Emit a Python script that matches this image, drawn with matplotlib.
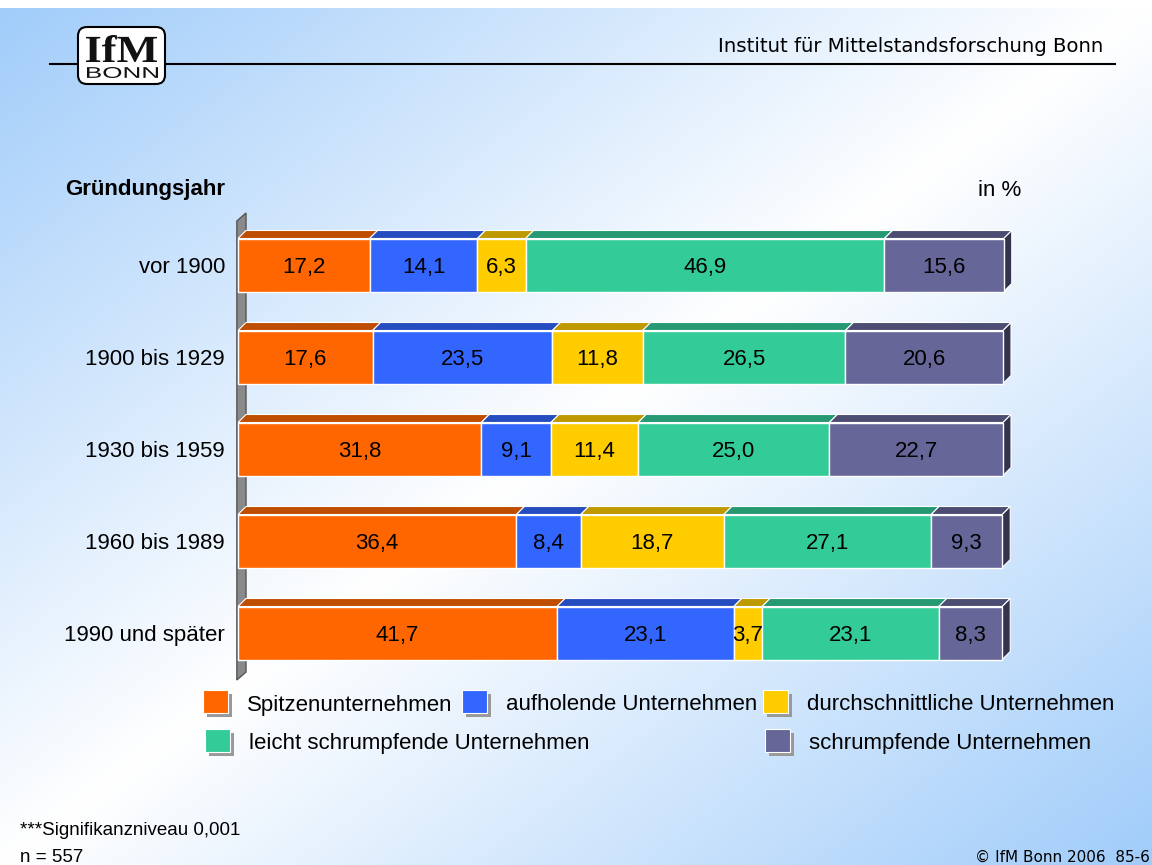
import numpy as np
import matplotlib
matplotlib.use("Agg")
import matplotlib.pyplot as plt
from matplotlib.patches import Polygon, Rectangle, FancyBboxPatch, PathPatch
from matplotlib.textpath import TextPath
from matplotlib.font_manager import FontProperties
from matplotlib.transforms import Affine2D

plt.rcParams['font.family'] = ['Liberation Sans', 'DejaVu Sans']

# data
categories = ['vor 1900', '1900 bis 1929', '1930 bis 1959', '1960 bis 1989', '1990 und später']
series = ['Spitzenunternehmen', 'aufholende Unternehmen', 'durchschnittliche Unternehmen',
          'leicht schrumpfende Unternehmen', 'schrumpfende Unternehmen']
values = [
    [17.2, 17.6, 31.8, 36.4, 41.7],
    [14.1, 23.5, 9.1, 8.4, 23.1],
    [6.3, 11.8, 11.4, 18.7, 3.7],
    [46.9, 26.5, 25.0, 27.1, 23.1],
    [15.6, 20.6, 22.7, 9.3, 8.3],
]
colors = ['#ff6600', '#3366ff', '#ffcc00', '#33cc99', '#666699']

W, H = 1152, 865
fig = plt.figure(figsize=(W / 100, H / 100), dpi=100)

# background: diagonal blue-white gradient
bg = fig.add_axes([0, 0, 1, 1])
xx, yy = np.meshgrid(np.arange(W) / W, np.arange(H) / H)
t = np.abs(xx + yy - 1.0)[..., None]
blue = np.array([160, 204, 250]) / 255.0
img = (1 - t) * 1.0 + t * blue
img[:8] = 1.0
bg.imshow(img, extent=(0, W, H, 0), aspect='auto', interpolation='bilinear')
bg.set_xlim(0, W)
bg.set_ylim(H, 0)
bg.axis('off')

# header
bg.plot([50, 1115], [63.5, 63.5], color='black', lw=1.5)
bg.add_patch(FancyBboxPatch((78, 27), 87, 57, boxstyle='round,pad=0,rounding_size=9',
                            fc='white', ec='black', lw=1.5, zorder=3))


def logo_text(s, fp, x0, x1, ytop, ybot):
    tp = TextPath((0, 0), s, prop=fp, size=1)
    ext = tp.get_extents()
    tr = (Affine2D().translate(-ext.x0, -ext.y0)
          .scale((x1 - x0) / ext.width, -(ybot - ytop) / ext.height)
          .translate(x0, ybot))
    bg.add_patch(PathPatch(tr.transform_path(tp), fc='#111111', ec='none', zorder=4))


logo_text('IfM', FontProperties(family='Liberation Serif', weight='bold'), 86, 157, 35, 62)
logo_text('BONN', FontProperties(family='Liberation Sans'), 87, 158, 67, 78)

bg.text(1103, 47, 'Institut für Mittelstandsforschung Bonn', ha='right', va='center',
        fontsize=14.2, family='DejaVu Sans')

bg.text(65, 190, 'Gründungsjahr', ha='left', va='center', fontsize=16, fontweight='bold')
bg.text(978, 190, 'in %', ha='left', va='center', fontsize=16)

# footer
bg.text(20, 835, '***Signifikanzniveau 0,001', ha='left', va='baseline', fontsize=13.5)
bg.text(20, 862, 'n = 557', ha='left', va='baseline', fontsize=13.5)
bg.text(1150, 862, '© IfM Bonn 2006  85-6', ha='right', va='baseline', fontsize=11,
        family='DejaVu Sans')

# legend
legend_pos = [(203, 690), (462, 690), (763, 690), (205, 729), (765, 729)]
for lab, col, (lx, ly) in zip(series, colors, legend_pos):
    bg.add_patch(Rectangle((lx + 4, ly + 4), 25, 23, fc='#999999', ec='none', zorder=3))
    bg.add_patch(Rectangle((lx, ly), 25, 23, fc=col, ec='white', lw=0.8, zorder=4))
    bg.text(lx + 44, ly + 15, lab, ha='left', va='center', fontsize=16, zorder=5)

# bar chart
ax_l, ax_r, ax_t, ax_b = 238, 1003, 213, 680
ax = fig.add_axes([ax_l / W, 1 - ax_b / H, (ax_r - ax_l) / W, (ax_b - ax_t) / H])
ax.patch.set_alpha(0)
ytop, ybot = -(265 - 213) / 92, (680 - 265) / 92
ax.set_xlim(0, 100)
ax.set_ylim(ybot, ytop)
ax.axis('off')

depth = 8
dxd = depth / ((ax_r - ax_l) / 100)
dyd = depth / ((ax_b - ax_t) / (ybot - ytop))
bh = 53 / 92
hh = bh / 2
ypos = np.arange(len(categories))


def shade(c, f):
    rgb = np.array(matplotlib.colors.to_rgb(c)) * f
    return tuple(rgb)


# back wall
ax.add_patch(Polygon([(-0.15, ybot), (-0.15, ytop + dyd), (dxd, ytop), (dxd, ybot - dyd)],
                     closed=True, fc='#8a8a8a', ec='#555555', lw=1, clip_on=False, zorder=1))

left = np.zeros(len(categories))
for k, (vals, col) in enumerate(zip(values, colors)):
    vals = np.array(vals)
    ax.barh(ypos, vals, left=left, height=bh, color=col, edgecolor='white', lw=1,
            zorder=3, clip_on=False)
    for i, (l, v) in enumerate(zip(left, vals)):
        r = l + v
        yt = i - hh
        ax.add_patch(Polygon([(l, yt), (r, yt), (r + dxd, yt - dyd), (l + dxd, yt - dyd)],
                             closed=True, fc=shade(col, 0.75), ec='white', lw=0.8,
                             clip_on=False, zorder=2))
        if k == len(values) - 1:
            ax.add_patch(Polygon([(r, yt), (r + dxd, yt - dyd), (r + dxd, i + hh - dyd), (r, i + hh)],
                                 closed=True, fc=shade(col, 0.5), ec='white', lw=0.8,
                                 clip_on=False, zorder=2))
        ax.text(l + v / 2, i, f'{v:.1f}'.replace('.', ','), ha='center', va='center_baseline',
                fontsize=16, zorder=5)
    left = left + vals

for i, cat in enumerate(categories):
    ax.text(-13 / ((ax_r - ax_l) / 100), i, cat, ha='right', va='center_baseline', fontsize=16)

fig.savefig('out.png', dpi=100)
